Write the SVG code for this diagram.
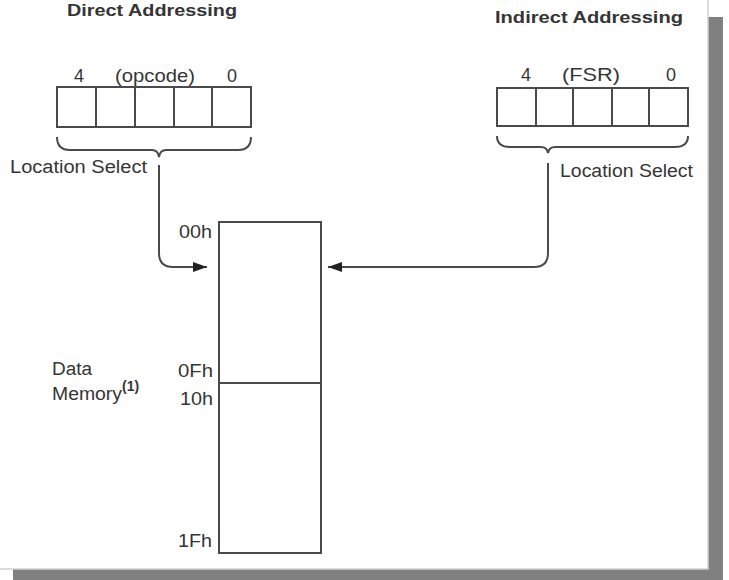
<svg xmlns="http://www.w3.org/2000/svg" width="729" height="580" viewBox="0 0 729 580">
  <style>
    text { font-family: "Liberation Sans", Arial, sans-serif; fill: #353535; }
    .t { font-size: 17px; font-weight: bold; }
    .l { font-size: 18px; }
    .cell { fill: #ffffff; stroke: #4a4a4a; stroke-width: 2; }
    .ln { fill: none; stroke: #4a4a4a; stroke-width: 2; }
  </style>
  <defs>
    <marker id="arrow" viewBox="0 0 14 10" refX="14" refY="5" markerWidth="14" markerHeight="10" markerUnits="userSpaceOnUse" orient="auto">
      <path d="M0,0 L14,5 L0,10 Z" fill="#222"/>
    </marker>
  </defs>

  <!-- page with drop shadow -->
  <rect x="13" y="17" width="710" height="563" fill="#808080"/>
  <rect x="-2" y="-2" width="710" height="571" fill="#ffffff" stroke="#d0d0d0" stroke-width="1.5"/>

  <!-- direct addressing register -->
  <g id="direct-register">
    <text class="t" x="67" y="16" textLength="170" lengthAdjust="spacingAndGlyphs">Direct Addressing</text>
    <text class="l" x="79" y="82" text-anchor="middle">4</text>
    <text class="l" x="115" y="82" textLength="80" lengthAdjust="spacingAndGlyphs">(opcode)</text>
    <text class="l" x="232" y="82" text-anchor="middle">0</text>
    <rect class="cell" x="57" y="87" width="194" height="40"/>
    <path class="ln" d="M96,87 V127 M135,87 V127 M174,87 V127 M212,87 V127"/>
    <path class="ln" d="M57,137 Q57,150 70,150 H152 Q158,150 159,157 Q160,150 166,150 H238 Q251,150 251,137"/>
    <text class="l" x="10" y="173" textLength="137" lengthAdjust="spacingAndGlyphs">Location Select</text>
  </g>

  <!-- indirect addressing register -->
  <g id="indirect-register">
    <text class="t" x="495" y="23" textLength="188" lengthAdjust="spacingAndGlyphs">Indirect Addressing</text>
    <text class="l" x="526" y="81" text-anchor="middle">4</text>
    <text class="l" x="562" y="81" textLength="58" lengthAdjust="spacingAndGlyphs">(FSR)</text>
    <text class="l" x="671" y="81" text-anchor="middle">0</text>
    <rect class="cell" x="497" y="88" width="191" height="38"/>
    <path class="ln" d="M536,88 V126 M573,88 V126 M612,88 V126 M649,88 V126"/>
    <path class="ln" d="M497,136 Q497,147 510,147 H541 Q547,147 548,153 Q549,147 555,147 H675 Q688,147 688,136"/>
    <text class="l" x="560" y="177" textLength="133" lengthAdjust="spacingAndGlyphs">Location Select</text>
  </g>

  <!-- data memory block -->
  <g id="data-memory">
    <rect class="cell" x="219" y="222" width="102" height="331"/>
    <path class="ln" d="M219,383 H321"/>
    <text class="l" x="179" y="238" textLength="33" lengthAdjust="spacingAndGlyphs">00h</text>
    <text class="l" x="178" y="377" textLength="35" lengthAdjust="spacingAndGlyphs">0Fh</text>
    <text class="l" x="180" y="405" textLength="33" lengthAdjust="spacingAndGlyphs">10h</text>
    <text class="l" x="178" y="547" textLength="34" lengthAdjust="spacingAndGlyphs">1Fh</text>
    <text class="l" x="52" y="375" textLength="40" lengthAdjust="spacingAndGlyphs">Data</text>
    <text class="l" x="52" y="400"><tspan textLength="70" lengthAdjust="spacingAndGlyphs">Memory</tspan><tspan font-size="14" font-weight="bold" dy="-9">(1)</tspan></text>
  </g>

  <!-- connectors -->
  <g id="connectors">
    <path class="ln" d="M159,165 V253 Q159,267 173,267 H207" marker-end="url(#arrow)"/>
    <path class="ln" d="M548,163 V253 Q548,267 534,267 H328" marker-end="url(#arrow)"/>
  </g>
</svg>
